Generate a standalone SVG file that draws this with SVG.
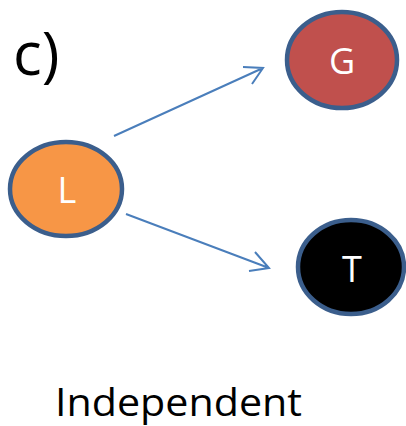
<svg xmlns="http://www.w3.org/2000/svg" width="406" height="426" viewBox="0 0 406 426">
<style>
.node{stroke:#3b5e8c;stroke-width:4.5}
.lbl{font-family:"Open Sans","Liberation Sans",sans-serif;font-size:36px;fill:#fff;text-anchor:middle}
.edge{stroke:#4a7ebb;stroke-width:2;fill:none}
.txt{font-family:"Open Sans","Liberation Sans",sans-serif;fill:#000}
</style>
<rect width="406" height="426" fill="#fff"/>
<text class="txt" x="13" y="75" font-size="60">c)</text>
<g id="connectors">
<path class="edge" d="M114,136 L263,68 M243,67 L263,68 L252,84"/>
<path class="edge" d="M126,214 L269,268 M255,252 L269,268 L249,271"/>
</g>
<g id="G">
<ellipse class="node" cx="342" cy="60" rx="55" ry="48" fill="#c0504d"/>
<text class="lbl" x="342" y="74">G</text>
</g>
<g id="L">
<ellipse class="node" cx="66" cy="189" rx="56" ry="47" fill="#f79646"/>
<text class="lbl" x="67" y="203">L</text>
</g>
<g id="T">
<ellipse class="node" cx="351" cy="267" rx="53" ry="47" fill="#000"/>
<text class="lbl" x="352" y="282">T</text>
</g>
<text class="txt" x="55" y="416" font-size="38" textLength="247" lengthAdjust="spacingAndGlyphs">Independent</text>
</svg>
